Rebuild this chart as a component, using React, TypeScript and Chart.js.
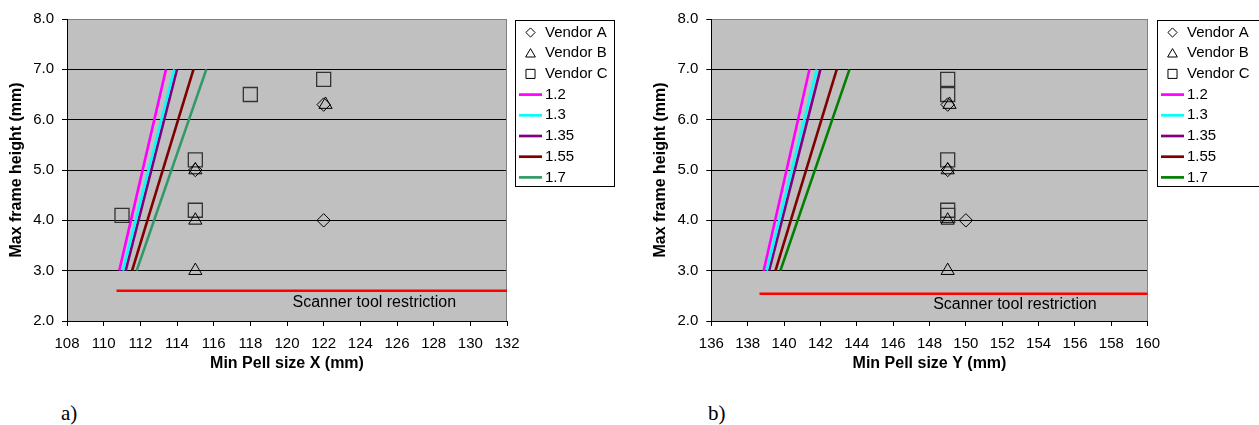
import React, { useEffect, useRef } from "react";
import { Chart, registerables } from "chart.js";

Chart.register(...registerables);

const FONT = "'Liberation Sans', Arial, Helvetica, sans-serif";

// ---------- shared ----------
const VENDOR_NAMES = ["Vendor A", "Vendor B", "Vendor C"];
const VENDOR_STYLES = ["rectRot", "triangle", "rect"];
const RATIO_LABELS = ["1.2", "1.3", "1.35", "1.55", "1.7"];
const RATIO_COLORS_A = ["#FF00FF", "#00FFFF", "#800080", "#800000", "#339966"];
const RATIO_COLORS_B = ["#FF00FF", "#00FFFF", "#800080", "#800000", "#008000"];
const RATIO_HEIGHTS = [3, 7];
const Y_TICKS = [2, 3, 4, 5, 6, 7, 8];
const Y_TITLE = "Max frame height (mm)";
const RESTRICTION_LABEL = "Scanner tool restriction";

// ---------- chart a) ----------
const A_X_TITLE = "Min Pell size X (mm)";
const A_X_TICKS = [108, 110, 112, 114, 116, 118, 120, 122, 124, 126, 128, 130, 132];
const A_VENDOR_A_X = [115, 122, 122];
const A_VENDOR_A_Y = [5.0, 6.3, 4.0];
const A_VENDOR_B_X = [115, 115, 115, 122.1];
const A_VENDOR_B_Y = [5.0, 4.0, 3.0, 6.3];
const A_VENDOR_C_X = [111, 115, 115, 118, 122];
const A_VENDOR_C_Y = [4.1, 5.2, 4.2, 6.5, 6.8];
const A_RATIO_X = [
  [110.85, 113.4],
  [111.05, 113.85],
  [111.2, 114.0],
  [111.55, 114.9],
  [111.8, 115.6],
];
const A_RESTRICTION_X = [110.7, 132];
const A_RESTRICTION_Y = [2.6, 2.6];
const A_RESTRICTION_TEXT_AT = [120.3, 2.37];

// ---------- chart b) ----------
const B_X_TITLE = "Min Pell size Y (mm)";
const B_X_TICKS = [136, 138, 140, 142, 144, 146, 148, 150, 152, 154, 156, 158, 160];
const B_VENDOR_A_X = [149, 149, 150];
const B_VENDOR_A_Y = [6.3, 5.0, 4.0];
const B_VENDOR_B_X = [149.1, 149, 149, 149];
const B_VENDOR_B_Y = [6.3, 5.0, 4.0, 3.0];
const B_VENDOR_C_X = [149, 149, 149, 149, 149];
const B_VENDOR_C_Y = [6.8, 6.5, 5.2, 4.2, 4.1];
const B_RATIO_X = [
  [138.88, 141.4],
  [139.05, 141.8],
  [139.18, 142.0],
  [139.53, 142.9],
  [139.8, 143.6],
];
const B_RESTRICTION_X = [138.65, 160];
const B_RESTRICTION_Y = [2.54, 2.54];
const B_RESTRICTION_TEXT_AT = [148.2, 2.33];

const zip = (xs: number[], ys: number[]) => xs.map((x, i) => ({ x, y: ys[i] }));

const MARKER_RADIUS: Record<string, number> = { rectRot: 6.7, triangle: 7.6, rect: 9.9 };

function drawMarker(ctx: CanvasRenderingContext2D, style: string, x: number, y: number, r: number) {
  ctx.beginPath();
  if (style === "rectRot") {
    ctx.moveTo(x - r, y);
    ctx.lineTo(x, y - r);
    ctx.lineTo(x + r, y);
    ctx.lineTo(x, y + r);
    ctx.closePath();
  } else if (style === "triangle") {
    ctx.moveTo(x, y - r);
    ctx.lineTo(x + r * 0.866, y + r * 0.5);
    ctx.lineTo(x - r * 0.866, y + r * 0.5);
    ctx.closePath();
  } else {
    const s = r * Math.SQRT1_2;
    ctx.rect(x - s, y - s, 2 * s, 2 * s);
  }
  ctx.stroke();
}

type PanelProps = {
  left: number;
  width: number;
  plotLeft: number;
  plotRight: number;
  yTitlePad: number;
  xTitle: string;
  xTicks: number[];
  vendors: { x: number[]; y: number[] }[];
  ratioX: number[][];
  ratioColors: string[];
  restrictionX: number[];
  restrictionY: number[];
  textAt: number[];
  legendBox: { x: number; y: number; w: number; h: number };
};

const HEIGHT = 380;
const PLOT_TOP = 19;
const PLOT_BOTTOM = 321;

function Panel(p: PanelProps) {
  const ref = useRef<HTMLCanvasElement | null>(null);
  useEffect(() => {
    if (!ref.current) return;
    const datasets: any[] = [];
    p.vendors.forEach((v, i) => {
      datasets.push({
        label: VENDOR_NAMES[i],
        data: zip(v.x, v.y),
        pointStyle: VENDOR_STYLES[i],
        pointRadius: MARKER_RADIUS[VENDOR_STYLES[i]],
        pointBorderColor: i === 2 ? "#333333" : "#000000",
        pointBorderWidth: i === 2 ? 1.3 : 1,
        pointBackgroundColor: "rgba(0,0,0,0)",
        borderColor: "#000",
        showLine: false,
        legendKind: "marker",
      });
    });
    RATIO_LABELS.forEach((lab, i) => {
      datasets.push({
        label: lab,
        data: zip(p.ratioX[i], RATIO_HEIGHTS),
        showLine: true,
        borderColor: p.ratioColors[i],
        borderWidth: 2.6,
        pointRadius: 0,
        legendKind: "line",
      });
    });
    datasets.push({
      label: RESTRICTION_LABEL,
      data: zip(p.restrictionX, p.restrictionY),
      showLine: true,
      borderColor: "#FF0000",
      borderWidth: 2.4,
      pointRadius: 0,
      legendKind: "none",
    });

    const bgPlugin = {
      id: "plotBg",
      beforeDraw(chart: any) {
        const { ctx, chartArea: a } = chart;
        ctx.save();
        ctx.fillStyle = "#C0C0C0";
        ctx.fillRect(a.left, a.top, a.right - a.left, a.bottom - a.top);
        ctx.restore();
      },
      beforeDatasetsDraw(chart: any) {
        const { ctx, chartArea: a } = chart;
        ctx.save();
        ctx.strokeStyle = "#808080";
        ctx.lineWidth = 1;
        ctx.beginPath();
        ctx.moveTo(Math.round(a.right) - 0.5, a.top);
        ctx.lineTo(Math.round(a.right) - 0.5, a.bottom);
        ctx.stroke();
        ctx.restore();
      },
      afterDatasetsDraw(chart: any) {
        const { ctx } = chart;
        const xs = chart.scales.x;
        const ys = chart.scales.y;
        ctx.save();
        ctx.fillStyle = "#000";
        ctx.font = `16px ${FONT}`;
        ctx.textAlign = "left";
        ctx.textBaseline = "middle";
        ctx.fillText(RESTRICTION_LABEL, xs.getPixelForValue(p.textAt[0]), ys.getPixelForValue(p.textAt[1]));
        ctx.restore();
      },
      afterDraw(chart: any) {
        const { ctx } = chart;
        const b = p.legendBox;
        ctx.save();
        ctx.fillStyle = "#FFFFFF";
        ctx.fillRect(b.x, b.y, b.w, b.h);
        ctx.strokeStyle = "#000";
        ctx.lineWidth = 1;
        ctx.strokeRect(b.x + 0.5, b.y + 0.5, b.w, b.h);
        ctx.font = `15px ${FONT}`;
        ctx.textBaseline = "middle";
        ctx.textAlign = "left";
        let row = 0;
        chart.data.datasets.forEach((ds: any) => {
          if (ds.legendKind === "none") return;
          const cy = b.y + 12.5 + row * 20.7;
          if (ds.legendKind === "marker") {
            ctx.strokeStyle = "#000";
            ctx.lineWidth = 1;
            const r = ds.pointStyle === "rect" ? 6.4 : ds.pointStyle === "triangle" ? 5.6 : 4.6;
            drawMarker(ctx, ds.pointStyle, b.x + 15.5, cy + (ds.pointStyle === "triangle" ? 1 : 0), r);
          } else {
            ctx.strokeStyle = ds.borderColor;
            ctx.lineWidth = 2.7;
            ctx.beginPath();
            ctx.moveTo(b.x + 4, cy);
            ctx.lineTo(b.x + 27, cy);
            ctx.stroke();
          }
          ctx.fillStyle = "#000";
          ctx.fillText(ds.label, b.x + 30, cy);
          row++;
        });
        ctx.restore();
      },
    };

    const chart = new Chart(ref.current, {
      type: "scatter",
      data: { datasets },
      plugins: [bgPlugin],
      options: {
        responsive: false,
        animation: false,
        events: [],
        layout: { padding: { left: 0, top: PLOT_TOP, right: p.width - p.plotRight, bottom: 0 } },
        plugins: { legend: { display: false }, tooltip: { enabled: false } },
        scales: {
          x: {
            type: "linear",
            min: p.xTicks[0],
            max: p.xTicks[p.xTicks.length - 1],
            afterBuildTicks: (s: any) => {
              s.ticks = p.xTicks.map((v) => ({ value: v }));
            },
            afterFit: (s: any) => {
              s.height = HEIGHT - PLOT_BOTTOM;
            },
            grid: { drawOnChartArea: false, drawTicks: true, tickLength: 5, tickColor: "#000", color: "#000" },
            border: { display: true, color: "#000", width: 1 },
            ticks: {
              padding: 9,
              color: "#000",
              font: { family: FONT, size: 15 },
              callback: (v: any) => String(v),
              maxRotation: 0,
              autoSkip: false,
            },
            title: {
              display: true,
              text: p.xTitle,
              color: "#000",
              font: { family: FONT, size: 16, weight: "bold" },
              padding: { top: 0, bottom: 6.4 },
            },
          },
          y: {
            type: "linear",
            min: Y_TICKS[0],
            max: Y_TICKS[Y_TICKS.length - 1],
            afterBuildTicks: (s: any) => {
              s.ticks = Y_TICKS.map((v) => ({ value: v }));
            },
            afterFit: (s: any) => {
              s.width = p.plotLeft;
            },
            grid: {
              drawOnChartArea: true,
              drawTicks: true,
              tickLength: 5,
              tickColor: "#000",
              color: (c: any) => (c.tick && c.tick.value === Y_TICKS[Y_TICKS.length - 1] ? "#808080" : "#000"),
            },
            border: { display: true, color: "#000", width: 1 },
            ticks: {
              padding: 8,
              color: "#000",
              font: { family: FONT, size: 15 },
              callback: (v: any) => Number(v).toFixed(1),
              autoSkip: false,
            },
            title: {
              display: true,
              text: Y_TITLE,
              color: "#000",
              font: { family: FONT, size: 16, weight: "bold" },
              padding: { top: p.yTitlePad, bottom: 0 },
            },
          },
        },
      } as any,
    });
    return () => chart.destroy();
  }, []);
  return (
    <canvas
      ref={ref}
      width={p.width}
      height={HEIGHT}
      style={{ position: "absolute", left: p.left, top: 0, width: p.width, height: HEIGHT }}
    />
  );
}

export default function App() {
  return (
    <div style={{ position: "absolute", left: 0, top: 0, width: 1259, height: 425, background: "#fff", overflow: "hidden" }}>
      <Panel
        left={0}
        width={625}
        plotLeft={67}
        plotRight={507}
        yTitlePad={7}
        xTitle={A_X_TITLE}
        xTicks={A_X_TICKS}
        vendors={[
          { x: A_VENDOR_A_X, y: A_VENDOR_A_Y },
          { x: A_VENDOR_B_X, y: A_VENDOR_B_Y },
          { x: A_VENDOR_C_X, y: A_VENDOR_C_Y },
        ]}
        ratioX={A_RATIO_X}
        ratioColors={RATIO_COLORS_A}
        restrictionX={A_RESTRICTION_X}
        restrictionY={A_RESTRICTION_Y}
        textAt={A_RESTRICTION_TEXT_AT}
        legendBox={{ x: 515, y: 20, w: 99, h: 166 }}
      />
      <Panel
        left={640}
        width={619}
        plotLeft={71.3}
        plotRight={507.7}
        yTitlePad={10.5}
        xTitle={B_X_TITLE}
        xTicks={B_X_TICKS}
        vendors={[
          { x: B_VENDOR_A_X, y: B_VENDOR_A_Y },
          { x: B_VENDOR_B_X, y: B_VENDOR_B_Y },
          { x: B_VENDOR_C_X, y: B_VENDOR_C_Y },
        ]}
        ratioX={B_RATIO_X}
        ratioColors={RATIO_COLORS_B}
        restrictionX={B_RESTRICTION_X}
        restrictionY={B_RESTRICTION_Y}
        textAt={B_RESTRICTION_TEXT_AT}
        legendBox={{ x: 517, y: 20, w: 120, h: 166 }}
      />
      <div style={{ position: "absolute", left: 61, top: 400, fontFamily: "'Liberation Serif', 'Times New Roman', serif", fontSize: 21, lineHeight: "26px" }}>a)</div>
      <div style={{ position: "absolute", left: 708, top: 400, fontFamily: "'Liberation Serif', 'Times New Roman', serif", fontSize: 21, lineHeight: "26px" }}>b)</div>
    </div>
  );
}
